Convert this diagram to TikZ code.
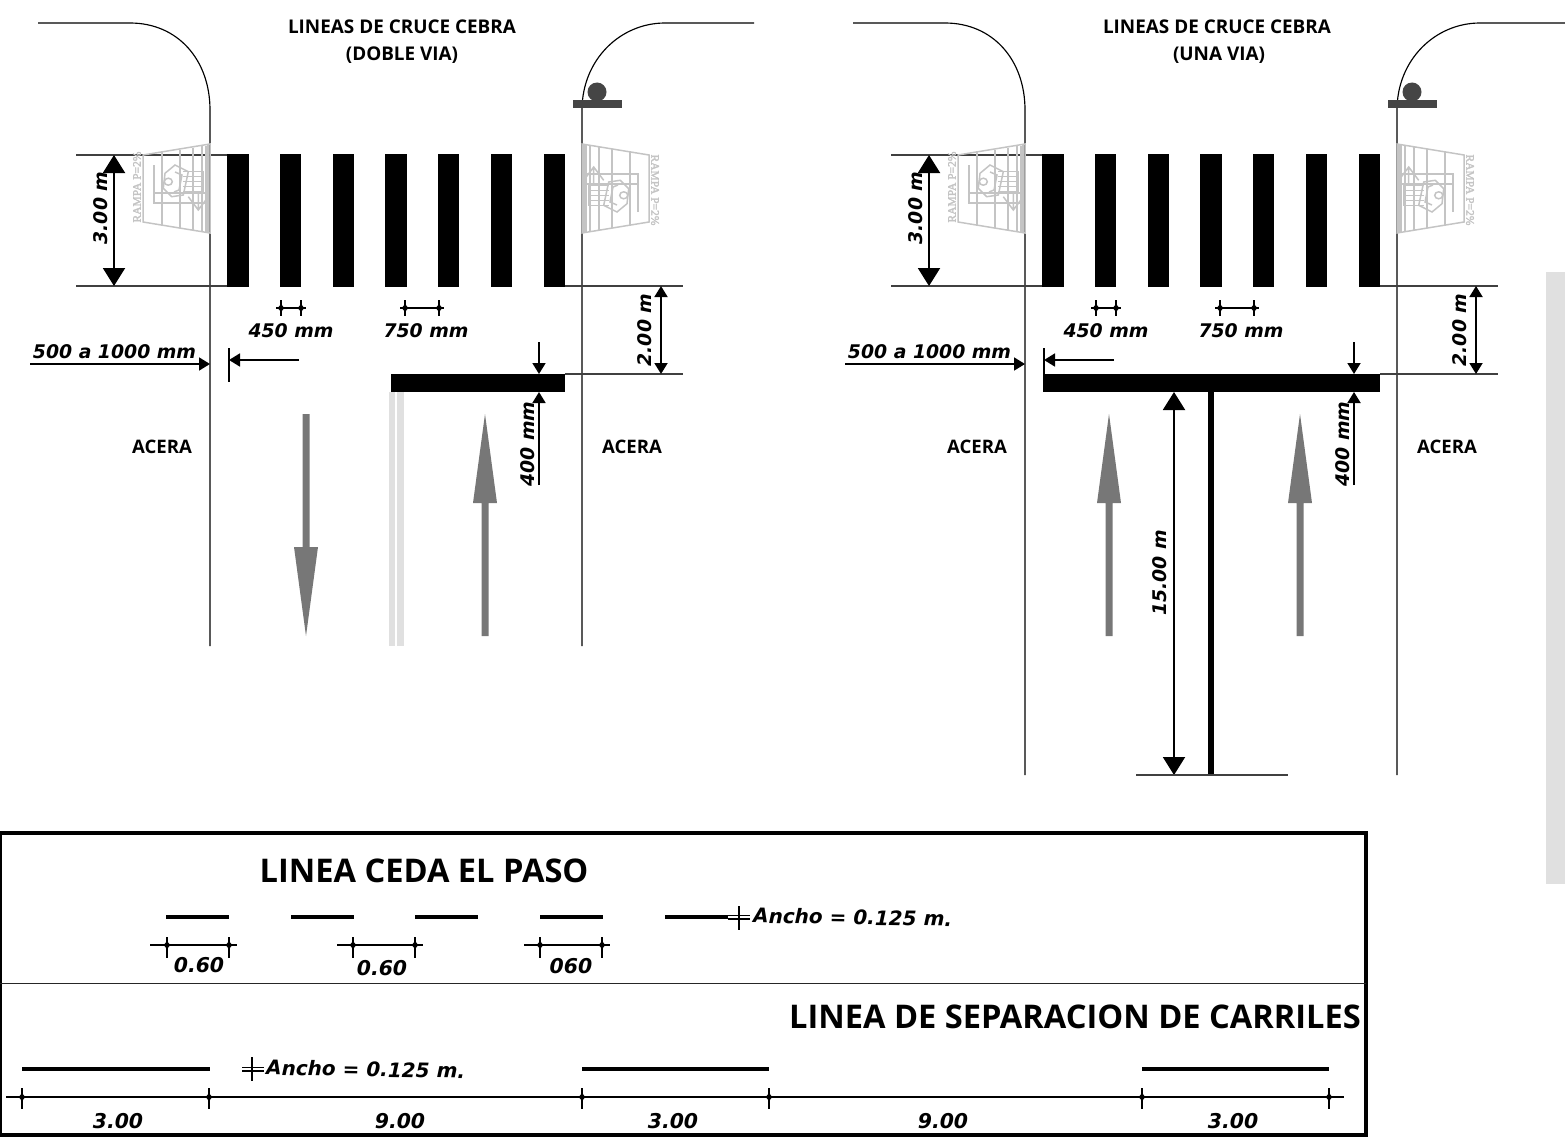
\documentclass[tikz,border=0pt]{standalone}
\usepackage{fontspec}
\setmainfont{DejaVu Sans}
\newfontfamily\titlefont{Open Sans}
\newfontfamily\rampfont[FakeBold=2.5]{Liberation Serif}
\usetikzlibrary{arrows.meta}
\definecolor{roadgray}{HTML}{777777}
\definecolor{rampgray}{HTML}{C4C4C4}
\definecolor{lampgray}{HTML}{454545}
\definecolor{palegray}{HTML}{E0E0E0}
\tikzset{
  road/.style={draw=black,line width=1.15pt},
  thinline/.style={draw=black!75,line width=1.2pt},
  zebra/.style={fill=black,draw=none},
  dimtxt/.style={font=\fontsize{18.8}{20}\selectfont\bfseries\itshape,inner sep=0pt},
  numtxt/.style={font=\fontsize{20.4}{22}\selectfont\bfseries\itshape,inner sep=0pt},
  anchotxt/.style={font=\fontsize{20}{22}\selectfont\bfseries\itshape,inner sep=0pt,anchor=west,rotate=-1},
  acera/.style={font=\titlefont\fontsize{18.6}{20}\selectfont\bfseries,inner sep=0pt},
  ttl/.style={font=\titlefont\fontsize{18.9}{20}\selectfont\bfseries,inner sep=0pt},
  bigttl/.style={font=\titlefont\fontsize{32.6}{34}\selectfont\bfseries,inner sep=0pt},
  bigdim/.style={draw=black,line width=2pt,{Triangle[width=22pt,length=18pt]}-{Triangle[width=22pt,length=18pt]}},
  middim/.style={draw=black,line width=1.8pt,-{Triangle[width=13pt,length=11pt]}},
  smalldim/.style={draw=black,line width=1.4pt},
  tickmark/.style={draw=black,line width=1.4pt},
  dashbar/.style={draw=black,line width=4pt},
  lanearrow/.style={fill=roadgray,draw=none},
  ramp/.style={draw=rampgray,line width=1.5pt},
}
% tick with small star at its crossing: x, line y, top, bottom
\newcommand{\tickat}[4]{%
  \draw[tickmark] (#1,#3) -- (#1,#4);
  \fill (#1-4.5,#2) -- (#1,#2-2.5) -- (#1+4.5,#2) -- (#1,#2+2.5) -- cycle;
  \fill (#1,#2-5) -- (#1+2.5,#2) -- (#1,#2+5) -- (#1-2.5,#2) -- cycle;
}
% ramp drawing, for the left kerb (x relative to the kerb)
\newcommand{\rampart}{%
  \draw[ramp] (-67,155) -- (-67,222) -- (0,233) -- (0,144) -- cycle;
  \foreach \vx/\va/\vb in {-48/152/225,-30/149.5/228,-17/147.5/230,-8/146/231.5,-4/145.5/232,-2/145/232.5}{
    \draw[ramp] (\vx,\va) -- (\vx,\vb);}
  \draw[ramp] (-57,193) -- (-4,193);
  \draw[ramp] (-57,203) -- (-4,203);
  \draw[ramp] (-56,165) -- (-56,203);
  \draw[ramp] (-35,165) -- (-21.7,171.7) -- (-26.7,195) -- (-38.3,196.7) -- (-46.7,188.3) -- (-45,173.3) -- cycle;
  \draw[ramp] (-35,172) -- (-28,175) -- (-31,190) -- (-36,192);
  \draw[ramp] (-41.7,181.7) ellipse (4 and 3.5);
  \draw[ramp] (-26.7,171.7) -- (-6.7,171.7) -- (-6.7,191.7) -- (-26.7,191.7)
    (-26.7,176.7) -- (-6.7,176.7) (-26.7,181.7) -- (-6.7,181.7) (-26.7,186.7) -- (-6.7,186.7);
  \draw[ramp] (-21.7,196.7) -- (-11.7,210) -- (-1.7,196.7) (-11.7,193) -- (-11.7,210);
}
\newcommand{\crossing}[1]{% #1 road bottom y
  \draw[road] (38,23) -- (130,23) .. controls (178,23) and (210,60) .. (210,110) -- (210,#1);
  \draw[road] (754,23) -- (665,23) .. controls (620,23) and (582,60) .. (582,110) -- (582,#1);
  \fill[lampgray] (573,100) rectangle (622,108);
  \fill[lampgray] (597,92) circle (9.5);
  \draw[thinline] (76,155) -- (227,155);
  \draw[thinline] (76,286) -- (227,286);
  \draw[thinline] (565,286) -- (683,286);
  \draw[thinline] (565,374) -- (683,374);
  \foreach \za/\zb in {227/249,280/301,333/354,385/407,438/459,491/512,544/565}{
    \fill[zebra] (\za,154) rectangle (\zb,287);}
  \begin{scope}[xshift=210pt]\rampart\end{scope}
  \begin{scope}[shift={(582,377)},xscale=-1,yscale=-1]\rampart\end{scope}
  \node[rotate=90,text=rampgray,inner sep=0pt,font=\rampfont\fontsize{11.5}{12}\selectfont] at (137,187) {RAMPA P=2\%};
  \node[rotate=-90,text=rampgray,inner sep=0pt,font=\rampfont\fontsize{11.5}{12}\selectfont] at (655,190) {RAMPA P=2\%};
  \draw[bigdim] (114,155) -- (114,286);
  \node[dimtxt,rotate=90] at (101,208) {3.00 m};
  \draw[smalldim] (276,308) -- (306,308);
  \tickat{281}{308}{300}{316}\tickat{301}{308}{300}{316}
  \node[dimtxt] at (291,331) {450 mm};
  \draw[smalldim] (400,308) -- (444,308);
  \tickat{405}{308}{300}{316}\tickat{439}{308}{300}{316}
  \node[dimtxt] at (426,331) {750 mm};
  \node[dimtxt] at (114.5,352) {500 a 1000 mm};
  \draw[middim] (30,364) -- (210,364);
  \draw[draw=black,line width=1.6pt] (229,348) -- (229,382);
  \draw[middim] (299,360) -- (229,360);
  \draw[middim,{Triangle[width=13pt,length=11pt]}-{Triangle[width=13pt,length=11pt]}] (661,286) -- (661,374);
  \node[dimtxt,rotate=90] at (645,330) {2.00 m};
  \draw[middim] (539,342) -- (539,374);
  \draw[middim] (539,485) -- (539,392);
  \node[dimtxt,rotate=90] at (528,444) {400 mm};
  \node[acera] at (162,447) {ACERA};
  \node[acera] at (632,447) {ACERA};
}
\newcommand{\uparrowgray}[1]{%
  \fill[lanearrow] (#1-3.5,636) -- (#1-3.5,503) -- (#1-12,503) -- (#1,414) -- (#1+12,503) -- (#1+3.5,503) -- (#1+3.5,636) -- cycle;
}
\begin{document}
\begin{tikzpicture}[x=1pt,y=-1pt]
\useasboundingbox (0,0) rectangle (1565,1137);
% ---------- left panel
\crossing{646}
\node[ttl] (t1) at (402,27) {LINEAS DE CRUCE CEBRA};
\node[ttl] (t2) at (402,55) {(DOBLE VIA)};
\fill[zebra] (391,374) rectangle (565,392);
\fill[palegray] (388.5,392) rectangle (395,646);
\fill[palegray] (397,392) rectangle (404,646);
\fill[lanearrow] (302.5,414) -- (302.5,547) -- (294,547) -- (306,636) -- (318,547) -- (309.5,547) -- (309.5,414) -- cycle;
\uparrowgray{485}
% ---------- right panel
\begin{scope}[xshift=815pt]
\crossing{775}
\fill[zebra] (228,374) rectangle (565,392);
\fill[zebra] (393,392) rectangle (399,775);
\uparrowgray{294}
\uparrowgray{485}
\draw[bigdim] (359,392) -- (359,775);
\node[dimtxt,rotate=90] at (345,573) {15.00 m};
\draw[thinline] (321,775) -- (473,775);
\end{scope}
\node[ttl] (t3) at (1217,27) {LINEAS DE CRUCE CEBRA};
\node[ttl] (t4) at (1219,55) {(UNA VIA)};
\fill[palegray] (1546,272) rectangle (1565,884);
% ---------- bottom box
\draw[draw=black,line width=4pt] (0,832.5) -- (1366,832.5) -- (1366,1134.5) -- (0,1134.5);
\draw[draw=black,line width=4pt] (0,832.5) -- (0,1134.5);
\draw[draw=black!85,line width=1.8pt] (0,983.5) -- (1366,983.5);
\node[bigttl] (b1) at (424,871) {LINEA CEDA EL PASO};
\node[bigttl] (b2) at (1075,1017) {LINEA DE SEPARACION DE CARRILES};
\foreach \da/\db in {166/229,291/354,415/478,540/603,665/728}{\draw[dashbar] (\da,917) -- (\db,917);}
\draw[tickmark] (739,906) -- (739,930);
\draw[tickmark] (728,915.5) -- (750,915.5) (728,919) -- (750,919);
\node[anchotxt] (a1) at (753,915.5) {Ancho = 0.125 m.};
\draw[smalldim] (150,945) -- (237,945);
\tickat{167}{945}{937}{958}\tickat{229}{945}{937}{958}
\draw[smalldim] (337,945) -- (423,945);
\tickat{353}{945}{937}{958}\tickat{415}{945}{937}{958}
\draw[smalldim] (524,945) -- (610,945);
\tickat{540}{945}{937}{958}\tickat{602}{945}{937}{958}
\node[numtxt] at (199,965) {0.60};
\node[numtxt] at (382,968) {0.60};
\node[numtxt] at (571,966) {060};
\foreach \da/\db in {22/210,582/769,1142/1329}{\draw[dashbar] (\da,1069) -- (\db,1069);}
\draw[tickmark] (252,1057) -- (252,1081);
\draw[tickmark] (242,1067.5) -- (264,1067.5) (242,1071) -- (264,1071);
\node[anchotxt] (a2) at (266,1067.5) {Ancho = 0.125 m.};
\draw[smalldim] (6,1097) -- (1344,1097);
\foreach \tx in {22,209,582,769,1142,1329}{\tickat{\tx}{1097}{1088}{1109}}
\node[numtxt] at (118,1121) {3.00};
\node[numtxt] at (400,1121) {9.00};
\node[numtxt] at (673,1121) {3.00};
\node[numtxt] at (943,1121) {9.00};
\node[numtxt] at (1233,1121) {3.00};
\end{tikzpicture}
\end{document}
